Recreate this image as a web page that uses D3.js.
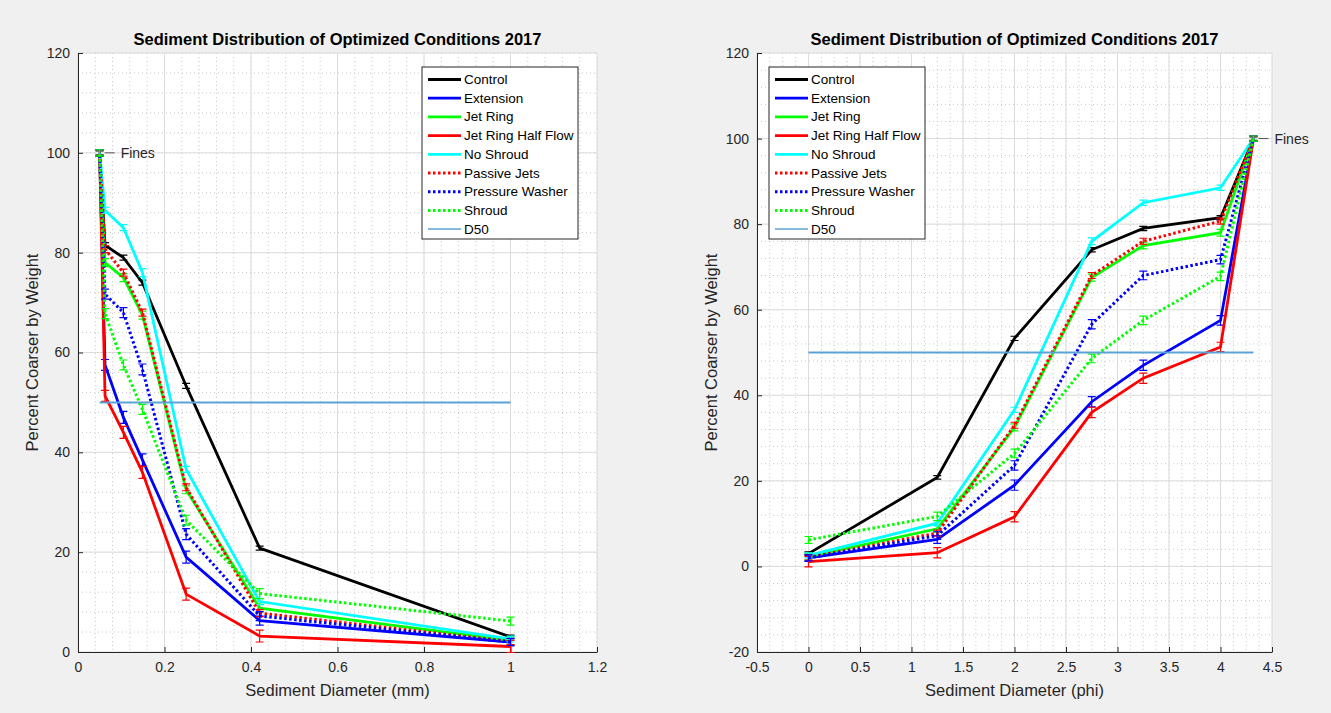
<!DOCTYPE html>
<html>
<head>
<meta charset="utf-8">
<script src="https://cdn.jsdelivr.net/npm/d3@7"></script>
<style>
  body { margin: 0; background: #f0f0f0; }
  svg { display: block; font-family: "Liberation Sans", Arial, sans-serif; }
</style>
</head>
<body>
<svg id="svg" width="1331" height="713"></svg>
<script>
// grain sizes: diameter in mm and the same sieves in phi units
const diam = [1, 0.42, 0.25, 0.149, 0.105, 0.0625, 0.05]
const phi = [0, 1.25, 2, 2.75, 3.25, 4, 4.32]

const seriesNames = ["Control", "Extension", "Jet Ring", "Jet Ring Half Flow", "No Shroud",
  "Passive Jets", "Pressure Washer", "Shroud"]
const control = [3, 20.8, 53.3, 74, 79, 81.5, 100]
const extension = [2, 6.3, 19, 38.5, 47, 57.5, 100]
const jetRing = [2.3, 8.8, 32.5, 67.5, 75, 78, 100]
const jetRingHalf = [1.1, 3.2, 11.6, 36, 44, 51.3, 100]
const noShroud = [2.6, 10.1, 36.6, 76, 85, 88.5, 100]
const passiveJets = [2.1, 7.8, 33, 68, 76, 80.7, 100]
const pressureWasher = [2, 7.2, 23.6, 56.6, 68, 71.7, 100]
const shroud = [6.2, 11.7, 26.4, 48.6, 57.5, 67.8, 100]
// half-height of the error bars
const errControl = [0.4, 0.4, 0.5, 0.5, 0.5, 0.5, 0.4]
const errExtension = [0.8, 0.9, 1.2, 1.2, 1.2, 1.1, 0.6]
const errJetRing = [0.8, 0.8, 0.8, 0.8, 0.8, 0.8, 0.6]
const errJetRingHalf = [1.2, 1.2, 1.2, 1.2, 1.2, 1.1, 0.6]
const errNoShroud = [0.6, 0.6, 0.6, 0.8, 0.6, 0.6, 0.5]
const errPassiveJets = [0.6, 0.7, 0.7, 0.7, 0.7, 0.7, 0.5]
const errPressureWasher = [0.7, 0.9, 1.1, 1.1, 1.0, 1.0, 0.6]
const errShroud = [0.8, 1.0, 1.0, 1.0, 1.0, 1.0, 0.6]

const d50 = 50

const values = [control, extension, jetRing, jetRingHalf, noShroud, passiveJets, pressureWasher, shroud]
const errs = [errControl, errExtension, errJetRing, errJetRingHalf, errNoShroud, errPassiveJets, errPressureWasher, errShroud]
const colors = ["#000000", "#0000ff", "#00ff00", "#ff0000", "#00ffff", "#ff0000", "#0000ff", "#00ff00"]
const dotted = [false, false, false, false, false, true, true, true]

const svg = d3.select("#svg")
const textColor = "#262626"
const fmt = d => String(d).replace("\u2212", "-")

function drawPanel(cfg) {
  const x = d3.scaleLinear().domain(cfg.xDomain).range([cfg.left, cfg.right])
  const y = d3.scaleLinear().domain(cfg.yDomain).range([652, 53])
  const g = svg.append("g")

  g.append("rect").attr("x", cfg.left).attr("y", 53)
    .attr("width", cfg.right - cfg.left).attr("height", 652 - 53).attr("fill", "#fff")

  // minor grid
  const xMinor = d3.range(cfg.xDomain[0], cfg.xDomain[1] + 1e-9, cfg.xMinor)
  const yMinor = d3.range(cfg.yDomain[0], cfg.yDomain[1] + 1e-9, cfg.yMinor)
  g.selectAll(".xm").data(xMinor).enter().append("line")
    .attr("x1", d => x(d)).attr("x2", d => x(d)).attr("y1", 53).attr("y2", 652)
    .attr("stroke", "#c8c8c8").attr("stroke-width", 1).attr("stroke-dasharray", "1,3")
  g.selectAll(".ym").data(yMinor).enter().append("line")
    .attr("y1", d => y(d)).attr("y2", d => y(d)).attr("x1", cfg.left).attr("x2", cfg.right)
    .attr("stroke", "#c8c8c8").attr("stroke-width", 1).attr("stroke-dasharray", "1,3")

  // major grid
  g.selectAll(".xg").data(cfg.xTicks).enter().append("line")
    .attr("x1", d => x(d)).attr("x2", d => x(d)).attr("y1", 53).attr("y2", 652)
    .attr("stroke", "#dcdcdc").attr("stroke-width", 1)
  g.selectAll(".yg").data(cfg.yTicks).enter().append("line")
    .attr("y1", d => y(d)).attr("y2", d => y(d)).attr("x1", cfg.left).attr("x2", cfg.right)
    .attr("stroke", "#dcdcdc").attr("stroke-width", 1)

  // axes
  const xAxis = g.append("g").attr("transform", "translate(0,652)")
    .call(d3.axisBottom(x).tickValues(cfg.xTicks).tickSizeInner(-5).tickSizeOuter(0).tickPadding(10)
      .tickFormat(fmt))
  const yAxis = g.append("g").attr("transform", `translate(${cfg.left},0)`)
    .call(d3.axisLeft(y).tickValues(cfg.yTicks).tickSizeInner(-5).tickSizeOuter(0).tickPadding(8)
      .tickFormat(fmt))
  for (const a of [xAxis, yAxis]) {
    a.select(".domain").attr("stroke", textColor)
    a.selectAll(".tick line").attr("stroke", textColor)
    a.selectAll("text").attr("fill", textColor).style("font-size", "14px").style("font-family", "Liberation Sans, Arial")
  }

  // series
  const line = d3.line().x(d => x(d[0])).y(d => y(d[1]))
  values.forEach((vals, i) => {
    const pts = vals.map((v, k) => [cfg.xs[k], v, errs[i][k]])
    const s = g.append("g")
    s.append("path").datum(pts).attr("d", line).attr("fill", "none")
      .attr("stroke", colors[i]).attr("stroke-width", dotted[i] ? 3 : 2.8)
      .attr("stroke-dasharray", dotted[i] ? "2.5,2.5" : null)
    s.selectAll(".eb").data(pts).enter().append("path")
      .attr("d", d => {
        const cx = x(d[0]), y0 = y(d[1] - d[2]), y1 = y(d[1] + d[2])
        return `M${cx},${y0}V${y1}M${cx - 4},${y0}H${cx + 4}M${cx - 4},${y1}H${cx + 4}`
      })
      .attr("fill", "none").attr("stroke", colors[i]).attr("stroke-width", 1.2)
  })

  // D50 line
  g.append("line").attr("x1", x(cfg.xs[0])).attr("x2", x(cfg.xs[cfg.xs.length - 1]))
    .attr("y1", y(d50)).attr("y2", y(d50)).attr("stroke", "#5ba3d6").attr("stroke-width", 2)

  // fines label
  const fx = x(cfg.xs[cfg.xs.length - 1]), fy = y(100)
  g.append("line").attr("x1", fx + 5).attr("x2", fx + 15).attr("y1", fy).attr("y2", fy)
    .attr("stroke", "#555").attr("stroke-width", 1)
  g.append("text").attr("x", fx + 21).attr("y", fy + 5).text("Fines")
    .attr("fill", textColor).style("font-size", "14px")

  // labels
  g.append("text").attr("x", (cfg.left + cfg.right) / 2).attr("y", 45).attr("text-anchor", "middle")
    .text("Sediment Distribution of Optimized Conditions 2017")
    .attr("fill", "#000").style("font-size", "16.5px").style("font-weight", "bold")
  g.append("text").attr("x", (cfg.left + cfg.right) / 2).attr("y", 696).attr("text-anchor", "middle")
    .text(cfg.xLabel).attr("fill", textColor).style("font-size", "16.5px")
  g.append("text").attr("transform", `translate(${cfg.left - 40},${(53 + 652) / 2}) rotate(-90)`)
    .attr("text-anchor", "middle").text("Percent Coarser by Weight")
    .attr("fill", textColor).style("font-size", "16.5px")

  // legend
  const lx = cfg.legendX, ly = 67
  const lg = g.append("g")
  lg.append("rect").attr("x", lx).attr("y", ly).attr("width", 156).attr("height", 172)
    .attr("fill", "#fff").attr("stroke", textColor).attr("stroke-width", 1)
  const entries = seriesNames.map((n, i) => ({name: n, color: colors[i], dotted: dotted[i], w: dotted[i] ? 3 : 2.8}))
  entries.push({name: "D50", color: "#5ba3d6", dotted: false, w: 1.5})
  entries.forEach((e, i) => {
    const ey = ly + 12.5 + i * 18.7
    lg.append("line").attr("x1", lx + 6).attr("x2", lx + 39).attr("y1", ey).attr("y2", ey)
      .attr("stroke", e.color).attr("stroke-width", e.w).attr("stroke-dasharray", e.dotted ? "2.5,2.5" : null)
    lg.append("text").attr("x", lx + 42).attr("y", ey + 4.5).text(e.name)
      .attr("fill", "#000").style("font-size", "13.5px")
  })
}

drawPanel({
  left: 78, right: 597, xDomain: [0, 1.2], yDomain: [0, 120],
  xTicks: [0, 0.2, 0.4, 0.6, 0.8, 1, 1.2], yTicks: [0, 20, 40, 60, 80, 100, 120],
  xMinor: 0.04, yMinor: 4, xs: diam, xLabel: "Sediment Diameter (mm)", legendX: 422
})
drawPanel({
  left: 757, right: 1272, xDomain: [-0.5, 4.5], yDomain: [-20, 120],
  xTicks: [-0.5, 0, 0.5, 1, 1.5, 2, 2.5, 3, 3.5, 4, 4.5], yTicks: [-20, 0, 20, 40, 60, 80, 100, 120],
  xMinor: 0.125, yMinor: 4, xs: phi, xLabel: "Sediment Diameter (phi)", legendX: 769
})
</script>
</body>
</html>
